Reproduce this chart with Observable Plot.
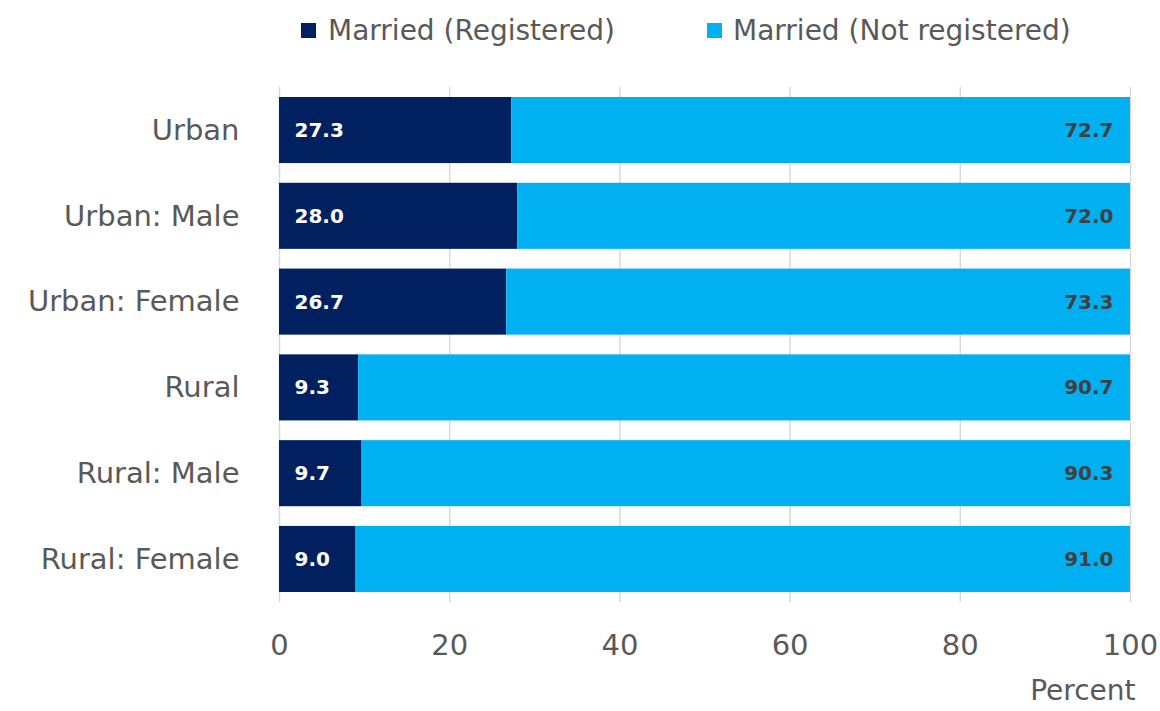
<!DOCTYPE html>
<html>
<head>
<meta charset="utf-8">
<script src="https://cdn.jsdelivr.net/npm/d3@7"></script>
<script src="https://cdn.jsdelivr.net/npm/@observablehq/plot@0.6"></script>
<style>
  html, body { margin: 0; padding: 0; background: #fff; }
  #wrap { position: relative; width: 1160px; height: 711px; overflow: hidden; }
  #legend { position: relative; height: 60px; font-family: "DejaVu Sans", sans-serif; font-size: 28px; color: #595959; }
  .sw { position: absolute; width: 15px; height: 15px; top: 23px; }
  .lt { position: absolute; top: 14px; line-height: 34px; white-space: nowrap; }
  #chart svg { display: block; }
</style>
</head>
<body>
<div id="wrap">
  <div id="legend"></div>
  <div id="chart"></div>
</div>
<script>
const categories = ["Urban", "Urban: Male", "Urban: Female", "Rural", "Rural: Male", "Rural: Female"];
const series = ["Married (Registered)", "Married (Not registered)"];
const registered = [27.3, 28.0, 26.7, 9.3, 9.7, 9.0];
const notRegistered = [72.7, 72.0, 73.3, 90.7, 90.3, 91.0];
const xTicks = [0, 20, 40, 60, 80, 100];
const xLabel = ["Percent"];
const colors = ["#002060", "#00B0F0"];

const data = [];
categories.forEach((c, i) => {
  data.push({cat: c, series: series[0], value: registered[i]});
  data.push({cat: c, series: series[1], value: notRegistered[i]});
});
const regData = data.filter(d => d.series === series[0]);
const notData = data.filter(d => d.series === series[1]);

// legend
const legend = document.getElementById("legend");
const legPos = [[301, 328], [707, 733]];
series.forEach((s, i) => {
  const sw = document.createElement("div");
  sw.className = "sw"; sw.style.left = legPos[i][0] + "px"; sw.style.background = colors[i];
  const t = document.createElement("div");
  t.className = "lt"; t.style.left = legPos[i][1] + "px"; t.textContent = s;
  legend.appendChild(sw); legend.appendChild(t);
});

const plot = Plot.plot({
  width: 1160,
  height: 651,
  marginTop: 27,
  marginBottom: 109,
  marginLeft: 279,
  marginRight: 30,
  style: {fontFamily: "DejaVu Sans, sans-serif", fontSize: "29px", color: "#595959", background: "#fff"},
  x: {domain: [0, 100]},
  y: {domain: categories, paddingInner: 0.23, paddingOuter: 0.1166, round: false},
  color: {domain: series, range: colors},
  marks: [
    Plot.gridX(xTicks, {stroke: "#d9d9d9", strokeOpacity: 1, strokeWidth: 1.5}),
    Plot.barX(data, {y: "cat", x: "value", fill: "series", order: series}),
    Plot.text(regData, {y: "cat", x: () => 0, text: d => d.value.toFixed(1), textAnchor: "start", dx: 15, fill: "#fff", fontWeight: "bold", fontSize: 20}),
    Plot.text(notData, {y: "cat", x: () => 100, text: d => d.value.toFixed(1), textAnchor: "end", dx: -17, fill: "#404040", fontWeight: "bold", fontSize: 20}),
    Plot.axisX({ticks: xTicks, tickSize: 0, tickPadding: 32, label: null}),
    Plot.axisY({tickSize: 0, tickPadding: 40, label: null}),
    Plot.text(xLabel, {frameAnchor: "bottom-right", text: d => d, textAnchor: "end", dx: 5, dy: 97, fill: "#595959", fontSize: 28})
  ]
});
document.getElementById("chart").appendChild(plot);
</script>
</body>
</html>
